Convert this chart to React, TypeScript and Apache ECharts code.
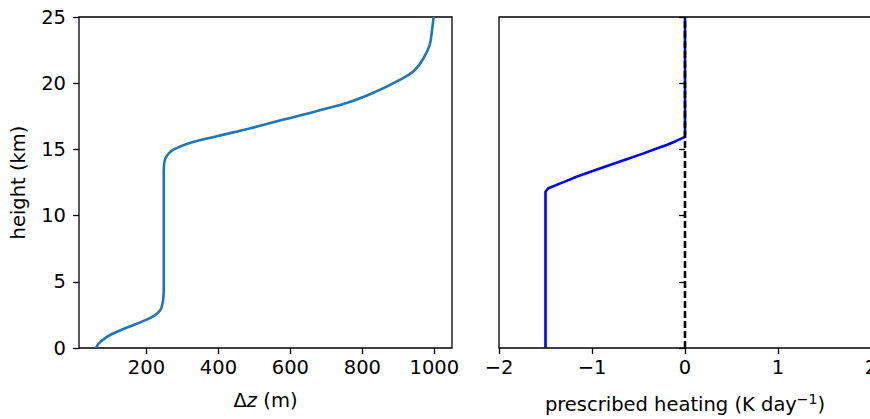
import React, { useEffect, useRef } from "react";
import * as echarts from "echarts";

// Left panel: vertical grid spacing Δz (m) against height (km)
const deltaZ = [60, 67, 81, 100, 146, 192, 222, 238, 244, 247, 248, 248, 248, 249, 253, 262, 276, 322, 396, 489, 581, 674, 767, 841, 897, 942, 970, 987, 993, 998];
const deltaZHeight = [0, 0.33, 0.66, 1.0, 1.55, 2.05, 2.45, 2.85, 3.3, 3.8, 4.5, 8, 13.3, 13.9, 14.35, 14.7, 15.0, 15.5, 16.0, 16.6, 17.25, 17.9, 18.6, 19.4, 20.15, 20.9, 21.9, 22.9, 23.9, 25];

// Right panel: prescribed heating (K/day) against height (km)
const heating = [-1.5, -1.5, -1.47, -1.3, -1.16, -1.0, -0.8, -0.62, -0.445, -0.32, -0.19, -0.1, 0, 0];
const heatingHeight = [0, 11.8, 12.07, 12.55, 12.95, 13.35, 13.84, 14.28, 14.7, 15.03, 15.35, 15.62, 15.95, 25];

// Zero reference line
const zeroX = [0, 0];
const zeroY = [0, 25];

// Tick positions
const dzTicks = [200, 400, 600, 800, 1000];
const heightTicks = [0, 5, 10, 15, 20, 25];
const heatingTicks = [-2, -1, 0, 1, 2];

const FONT = "DejaVu Sans";
const TXT = "#000";
const FS = 19.5;

const pairs = (xs: number[], ys: number[]) => xs.map((x, i) => [x, ys[i]]);
const minusSign = (v: number) => (v < 0 ? "\u2212" + Math.abs(v) : String(v));

export default function App() {
  const ref = useRef<HTMLDivElement>(null);

  useEffect(() => {
    if (!ref.current) return;
    const chart = echarts.init(ref.current, null, { renderer: "svg" });

    const tickStyle = { show: true, length: 6, inside: false, lineStyle: { color: "#000", width: 1.3 } };
    const labelStyle = { fontSize: FS, color: TXT, fontFamily: FONT };

    chart.setOption({
      animation: false,
      backgroundColor: "#fff",
      grid: [
        { left: 79, top: 17, width: 373, height: 331, show: true, borderColor: "#000", borderWidth: 1.3, backgroundColor: "transparent" },
        { left: 499, top: 17, width: 372, height: 331, show: true, borderColor: "#000", borderWidth: 1.3, backgroundColor: "transparent" },
      ],
      xAxis: [
        {
          type: "value",
          gridIndex: 0,
          min: 12.5,
          max: 1049,
          axisLine: { show: false },
          axisTick: { ...tickStyle, customValues: dzTicks },
          axisLabel: { ...labelStyle, margin: 9, customValues: dzTicks, formatter: (v: number) => String(v) },
          splitLine: { show: false },
          name: "{n|Δ}{i|z}{n| (m)}",
          nameLocation: "middle",
          nameGap: 42,
          nameTextStyle: {
            ...labelStyle,
            rich: {
              n: { fontSize: FS, fontFamily: FONT, color: TXT },
              i: { fontSize: FS, fontFamily: FONT, color: TXT, fontStyle: "italic" },
            },
          },
        },
        {
          type: "value",
          gridIndex: 1,
          min: -2,
          max: 2,
          interval: 1,
          axisLine: { show: false },
          axisTick: { ...tickStyle, customValues: heatingTicks },
          axisLabel: { ...labelStyle, margin: 9, customValues: heatingTicks, formatter: minusSign },
          splitLine: { show: false },
          name: "{n|prescribed heating (K day}{s|\u22121}{n|)}",
          nameLocation: "middle",
          nameGap: 44,
          nameTextStyle: {
            ...labelStyle,
            rich: {
              n: { fontSize: FS, fontFamily: FONT, color: TXT, lineHeight: 24 },
              s: { fontSize: 14, fontFamily: FONT, color: TXT, verticalAlign: "top", lineHeight: 24 },
            },
          },
        },
      ],
      yAxis: [
        {
          type: "value",
          gridIndex: 0,
          min: 0,
          max: 25,
          interval: 5,
          axisLine: { show: false },
          axisTick: { ...tickStyle, customValues: heightTicks },
          axisLabel: { ...labelStyle, margin: 13, customValues: heightTicks },
          splitLine: { show: false },
          name: "height (km)",
          nameLocation: "middle",
          nameRotate: 90,
          nameGap: 51,
          nameTextStyle: labelStyle,
        },
        {
          type: "value",
          gridIndex: 1,
          min: 0,
          max: 25,
          interval: 5,
          axisLine: { show: false },
          axisTick: { ...tickStyle, customValues: heightTicks },
          axisLabel: { show: false },
          splitLine: { show: false },
        },
      ],
      series: [
        {
          type: "line",
          xAxisIndex: 0,
          yAxisIndex: 0,
          data: pairs(deltaZ, deltaZHeight),
          showSymbol: false,
          smooth: 0.4,
          lineStyle: { color: "#1f77b4", width: 2.6 },
          itemStyle: { color: "#1f77b4" },
        },
        {
          type: "line",
          xAxisIndex: 1,
          yAxisIndex: 1,
          data: pairs(heating, heatingHeight),
          showSymbol: false,
          smooth: false,
          lineStyle: { color: "#0000ff", width: 2.6 },
          itemStyle: { color: "#0000ff" },
        },
        {
          type: "line",
          xAxisIndex: 1,
          yAxisIndex: 1,
          data: pairs(zeroX, zeroY),
          showSymbol: false,
          lineStyle: { color: "#000", width: 2.6, type: [7, 3] },
          itemStyle: { color: "#000" },
          z: 3,
        },
      ],
    });

    return () => chart.dispose();
  }, []);

  // The chart is laid out a little wider than the page so the right panel runs off its edge.
  return (
    <div style={{ position: "absolute", left: 0, top: 0, width: 870, height: 419, overflow: "hidden", background: "#fff" }}>
      <div ref={ref} style={{ width: 900, height: 419 }} />
    </div>
  );
}
